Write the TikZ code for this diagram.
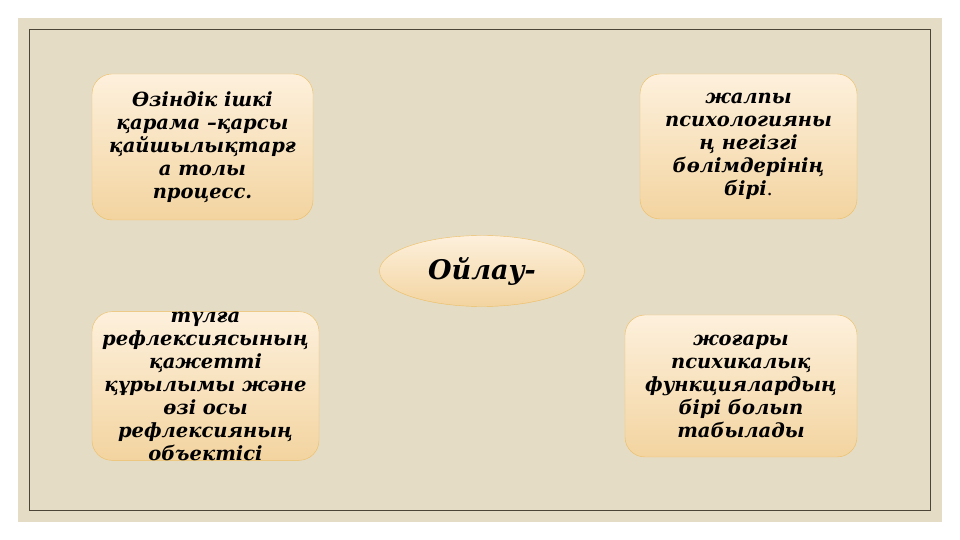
\documentclass[tikz,border=0pt]{standalone}
\usepackage{fontspec}
\setmainfont{DejaVu Serif}
\usepackage{tikz}
\usetikzlibrary{shapes.geometric}
\definecolor{slide}{HTML}{E5DCC5}
\definecolor{frameline}{HTML}{4A4536}
\definecolor{boxtop}{HTML}{FDF0DC}
\definecolor{boxbot}{HTML}{F3D4A0}
\definecolor{boxline}{HTML}{EDBE62}
\tikzstyle{idea}=[draw=boxline,thin,rounded corners=20pt,top color=boxtop,bottom color=boxbot,
  align=center,inner sep=0pt,font=\fontsize{19.5}{23}\selectfont\bfseries\itshape]
\tikzstyle{hub}=[draw=boxline,thin,ellipse,top color=boxtop,bottom color=boxbot,
  inner sep=0pt,font=\fontsize{27}{30}\selectfont\bfseries\itshape]

\begin{document}
\begin{tikzpicture}[x=1pt,y=1pt]
  \useasboundingbox (0,0) rectangle (960,540);
  \fill[slide] (18,18) rectangle (942,522);
  \draw[frameline,line width=0.8pt] (29.5,30) rectangle (930.5,510.5);
  \node[hub,minimum width=205pt,minimum height=71pt] (ojlau) at (482,269) {Ойлау-};
  \node[idea,minimum width=221pt,minimum height=146pt] (ishki) at (202.5,393)
    {Өзіндік ішкі\\қарама –қарсы\\қайшылықтарғ\\а толы\\процесс.};
  \node[idea,minimum width=217pt,minimum height=145pt] (zhalpy) at (748.5,393.5)
    {жалпы\\психологияны\\ң негізгі\\бөлімдерінің\\бірі{\normalfont\fontsize{19.5}{23}\selectfont.}};
  \node[idea,minimum width=227pt,minimum height=142pt] (tulga) at (205.5,154)
    {түлға\\рефлексиясының\\қажетті\\құрылымы және\\өзі осы\\рефлексияның\\объектісі};
  \node[idea,minimum width=232pt,minimum height=142pt] (zhogary) at (741,154)
    {жоғары\\психикалық\\функциялардың\\бірі болып\\табылады};
\end{tikzpicture}
\end{document}
